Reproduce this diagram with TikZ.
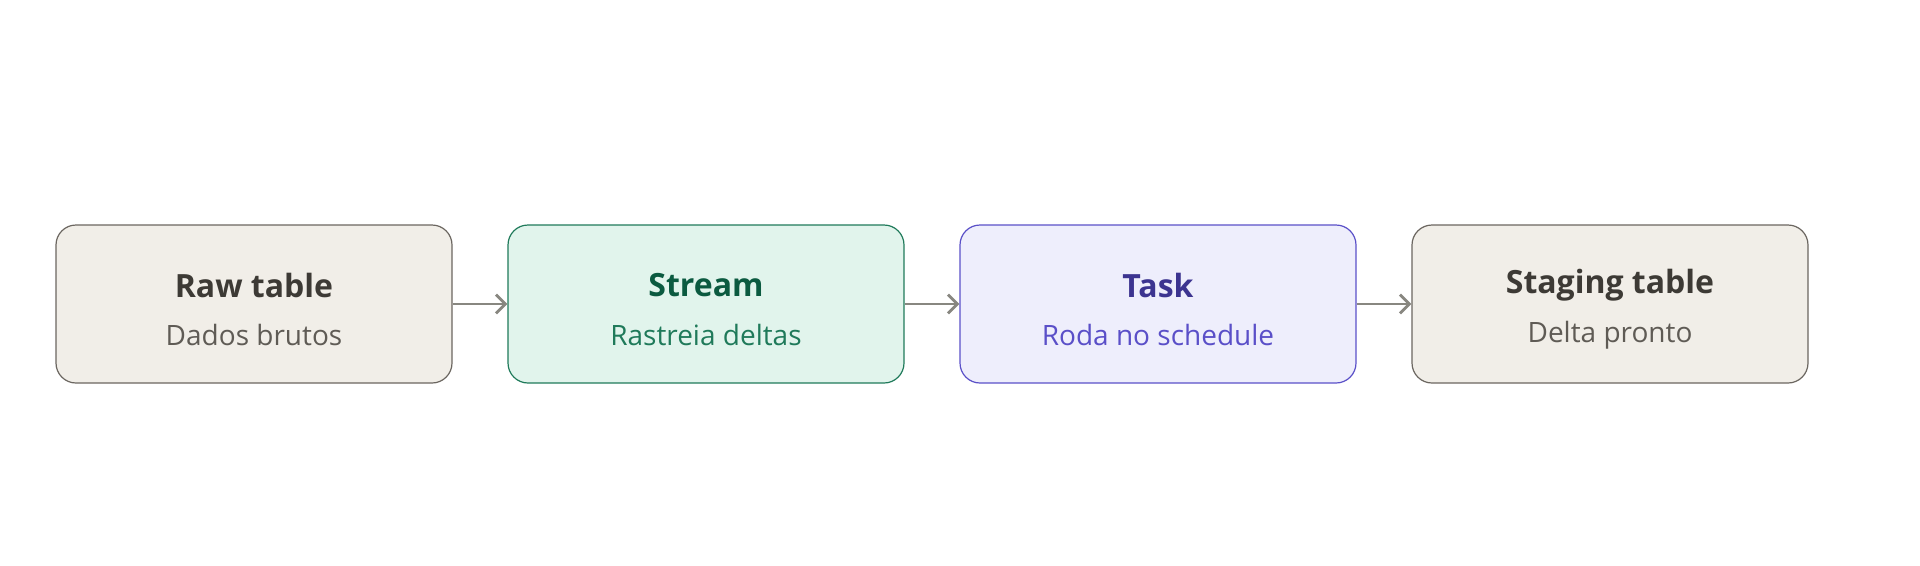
\documentclass[tikz,border=0pt]{standalone}
\usepackage{fontspec}
\setmainfont{Open Sans}
\usetikzlibrary{arrows.meta}
\begin{document}
\begin{tikzpicture}[x=0.75pt,y=-0.75pt,
 box/.style={draw,rounded corners=15pt,minimum width=297pt,minimum height=118.5pt,line width=0.9pt,align=center,inner sep=0pt},
 arr/.style={draw=gray!90!black!60,line width=2.2pt,-{Straight Barb[length=7pt,width=14pt,line width=2.2pt]}},
 t/.style={font=\fontsize{24}{28}\selectfont\bfseries},
 s/.style={font=\fontsize{21}{26}\selectfont}]
\useasboundingbox (0,0) rectangle (1920,565);
\node[box,fill={rgb,255:red,241;green,238;blue,232},draw={rgb,255:red,107;green,102;blue,96}] (a) at (254,304) {};
\node[box,fill={rgb,255:red,225;green,244;blue,236},draw={rgb,255:red,31;green,122;blue,90}] (b) at (706,304) {};
\node[box,fill={rgb,255:red,238;green,238;blue,252},draw={rgb,255:red,90;green,80;blue,200}] (c) at (1158,304) {};
\node[box,fill={rgb,255:red,241;green,238;blue,232},draw={rgb,255:red,107;green,102;blue,96}] (d) at (1610,304) {};
\node[t,text={rgb,255:red,61;green,58;blue,53}] (a1) at (254,285) {Raw table};
\node[s,text={rgb,255:red,95;green,91;blue,85}] (a2) at (254,335) {Dados brutos};
\node[t,text={rgb,255:red,11;green,90;blue,64}] (b1) at (706,285) {Stream};
\node[s,text={rgb,255:red,31;green,122;blue,90}] (b2) at (706,335) {Rastreia deltas};
\node[t,text={rgb,255:red,60;green,52;blue,144}] (c1) at (1158,285) {Task};
\node[s,text={rgb,255:red,90;green,79;blue,200}] (c2) at (1158,335) {Roda no schedule};
\node[t,text={rgb,255:red,61;green,58;blue,53}] (d1) at (1610,285) {Staging table};
\node[s,text={rgb,255:red,95;green,91;blue,85}] (d2) at (1610,335) {Delta pronto};
\draw[arr,draw={rgb,255:red,136;green,135;blue,128}] (a.east) -- (b.west);
\draw[arr,draw={rgb,255:red,136;green,135;blue,128}] (b.east) -- (c.west);
\draw[arr,draw={rgb,255:red,136;green,135;blue,128}] (c.east) -- (d.west);
\end{tikzpicture}
\end{document}
